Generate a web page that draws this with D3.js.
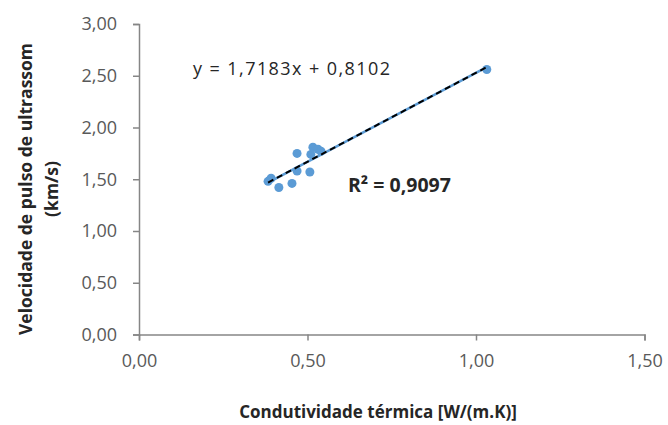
<!DOCTYPE html>
<html>
<head>
<meta charset="utf-8">
<script src="https://cdn.jsdelivr.net/npm/d3@7"></script>
<style>
  body { margin: 0; background: #fff; }
  svg { display: block; font-family: 'Open Sans', sans-serif; }
  .axis path, .axis line { stroke: #868686; stroke-width: 1.5; }
  .axis text { fill: #595959; font-size: 18px; font-family: 'Open Sans', sans-serif; }
</style>
</head>
<body>
<svg id="chart" width="668" height="425"></svg>
<script>
// data
const condutividade = [0.383, 0.392, 0.415, 0.454, 0.469, 0.469, 0.507, 0.510, 0.516, 0.531, 0.540, 1.032]
const velocidade    = [1.48, 1.51, 1.42, 1.46, 1.58, 1.75, 1.57, 1.74, 1.81, 1.79, 1.77, 2.56]
const xTicks = [0, 0.5, 1.0, 1.5]
const yTicks = [0, 0.5, 1.0, 1.5, 2.0, 2.5, 3.0]
const slope = 1.7183
const intercept = 0.8102
const equationLabel = 'y = 1,7183x + 0,8102'
const r2Label = 'R² = 0,9097'
const xTitle = 'Condutividade térmica [W/(m.K)]'
const yTitle = ['Velocidade de pulso de ultrassom', '(km/s)']

const POINT_COLOR = '#5b9bd5'

const svg = d3.select('#chart')
const plotLeft = 139, plotRight = 644.5, plotTop = 24, plotBottom = 334.5

const x = d3.scaleLinear().domain([0, 1.5]).range([plotLeft, plotRight])
const y = d3.scaleLinear().domain([0, 3]).range([plotBottom, plotTop])

const ptBr = d3.formatLocale({decimal: ',', thousands: '.', grouping: [3], currency: ['R$', '']})
const fmt = ptBr.format('.2f')

// axes
svg.append('g')
    .attr('class', 'axis')
    .attr('transform', `translate(0,${plotBottom})`)
    .call(d3.axisBottom(x).tickValues(xTicks).tickFormat(fmt).tickSize(6).tickSizeOuter(6).tickPadding(14))

svg.append('g')
    .attr('class', 'axis')
    .attr('transform', `translate(${plotLeft},0)`)
    .call(d3.axisLeft(y).tickValues(yTicks).tickFormat(fmt).tickSize(6).tickSizeOuter(6).tickPadding(16))

// trend line (blue with black dashes over it)
const xs = d3.extent(condutividade)
const trend = xs.map((v) => [v, slope * v + intercept])
const line = d3.line().x((d) => x(d[0])).y((d) => y(d[1]))

svg.append('path')
    .datum(trend)
    .attr('d', line)
    .attr('stroke', POINT_COLOR)
    .attr('stroke-width', 2.5)
    .attr('fill', 'none')

// points
svg.append('g').selectAll('circle')
    .data(condutividade.map((v, i) => [v, velocidade[i]]))
    .enter().append('circle')
    .attr('cx', (d) => x(d[0]))
    .attr('cy', (d) => y(d[1]))
    .attr('r', 4.5)
    .attr('fill', POINT_COLOR)

svg.append('path')
    .datum(trend)
    .attr('d', line)
    .attr('stroke', '#000')
    .attr('stroke-width', 2)
    .attr('stroke-dasharray', '6,4')
    .attr('fill', 'none')

// labels
svg.append('text')
    .attr('x', 193).attr('y', 75)
    .attr('textLength', 197)
    .attr('lengthAdjust', 'spacing')
    .style('font-size', '18px')
    .attr('fill', '#262626')
    .text(equationLabel)

svg.append('text')
    .attr('x', 348).attr('y', 192)
    .style('font-size', '19.5px')
    .style('font-weight', 'bold')
    .attr('fill', '#262626')
    .text(r2Label)

svg.append('text')
    .attr('x', 378).attr('y', 418)
    .attr('text-anchor', 'middle')
    .style('font-size', '17px')
    .style('font-weight', 'bold')
    .attr('fill', '#262626')
    .text(xTitle)

svg.append('g')
    .attr('transform', 'translate(0,189) rotate(-90)')
    .selectAll('text')
    .data(yTitle)
    .enter().append('text')
    .attr('x', 0)
    .attr('y', (d, i) => 32 + i * 26)
    .attr('text-anchor', 'middle')
    .style('font-size', '17.5px')
    .style('font-weight', 'bold')
    .attr('fill', '#262626')
    .text((d) => d)
</script>
</body>
</html>
